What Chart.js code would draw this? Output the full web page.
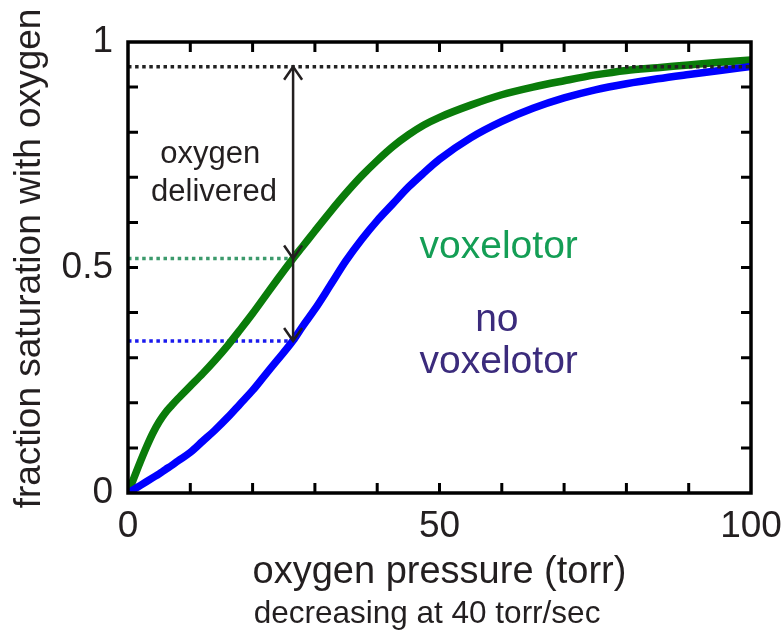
<!DOCTYPE html>
<html>
<head>
    <meta charset="UTF-8">
    <title>Oxygen saturation curves</title>
    <script src="https://cdn.jsdelivr.net/npm/chart.js"></script>
    <style>
        html, body { margin: 0; padding: 0; background: #fff; }
    </style>
</head>
<body>
    <canvas id="myChart" width="783" height="631"></canvas>

    <script>
        // oxygen pressure (torr) and fraction saturation for both curves
        const pressure = [0, 1, 2, 3, 4, 5, 6, 7, 8, 10, 12, 14, 16, 18, 20, 22, 24, 26.5, 28, 30,
            32.5, 35, 37.5, 40, 42.5, 45, 47.5, 50, 55, 60, 65, 70, 75, 80, 85, 90, 95, 100];
        const withVoxelotor = [0, 0.035, 0.07, 0.103, 0.133, 0.158, 0.178, 0.194, 0.209, 0.237, 0.265,
            0.295, 0.327, 0.362, 0.398, 0.436, 0.474, 0.52, 0.546, 0.581, 0.624, 0.665, 0.703, 0.737,
            0.768, 0.794, 0.816, 0.833, 0.86, 0.883, 0.9, 0.914, 0.927, 0.937, 0.943, 0.949, 0.955, 0.96];
        const noVoxelotor = [0, 0.0085, 0.017, 0.0255, 0.034, 0.0425, 0.052, 0.061, 0.071, 0.09, 0.115,
            0.14, 0.1675, 0.1975, 0.2275, 0.2615, 0.295, 0.338, 0.369, 0.4075, 0.461, 0.515, 0.562, 0.604,
            0.641, 0.678, 0.71, 0.74, 0.7875, 0.824, 0.853, 0.876, 0.894, 0.9075, 0.9185, 0.928, 0.937, 0.9455];

        const xTickLabels = [0, 50, 100];
        const yTickLabels = [0, 0.5, 1];

        // tissue pressure where delivery is read, and the saturation levels there
        const deliveredAt = 26.5;
        const loadedLevel = 0.945;
        const voxelotorLevel = 0.52;
        const noVoxelotorLevel = 0.337;

        const FONT = "'Liberation Sans', Arial, sans-serif";
        const INK = '#231f20';

        const toPoints = (xs, ys) => xs.map((x, i) => ({ x: x, y: ys[i] }));

        function arrowHead(ctx, x, y, dir) {
            // dir: -1 points up, 1 points down
            ctx.beginPath();
            ctx.moveTo(x - 9, y - dir * 13);
            ctx.lineTo(x, y);
            ctx.lineTo(x + 9, y - dir * 13);
            ctx.stroke();
        }

        const frameAndNotes = {
            id: 'frameAndNotes',
            afterDatasetsDraw(chart) {
                const { ctx, chartArea: a, scales: { x, y } } = chart;
                ctx.save();

                // boxed frame with inward ticks on all four sides
                ctx.strokeStyle = '#000';
                ctx.lineWidth = 3.5;
                ctx.strokeRect(a.left, a.top, a.right - a.left, a.bottom - a.top);
                ctx.lineWidth = 3;
                ctx.beginPath();
                for (let v = 10; v < 100; v += 10) {
                    const px = x.getPixelForValue(v);
                    ctx.moveTo(px, a.bottom); ctx.lineTo(px, a.bottom - 10);
                    ctx.moveTo(px, a.top); ctx.lineTo(px, a.top + 10);
                }
                for (let k = 1; k < 10; k++) {
                    const py = y.getPixelForValue(k / 10);
                    ctx.moveTo(a.left, py); ctx.lineTo(a.left + 10, py);
                    ctx.moveTo(a.right, py); ctx.lineTo(a.right - 10, py);
                }
                ctx.stroke();

                // oxygen delivered arrow
                const ax = x.getPixelForValue(deliveredAt);
                const yTop = y.getPixelForValue(loadedLevel);
                const yMid = y.getPixelForValue(voxelotorLevel);
                const yBot = y.getPixelForValue(noVoxelotorLevel);
                ctx.strokeStyle = INK;
                ctx.lineWidth = 2.5;
                ctx.beginPath();
                ctx.moveTo(ax, yTop); ctx.lineTo(ax, yBot);
                ctx.stroke();
                arrowHead(ctx, ax, yTop, -1);
                arrowHead(ctx, ax, yMid, 1);
                arrowHead(ctx, ax, yBot, 1);

                // labels
                ctx.textAlign = 'center';
                ctx.textBaseline = 'alphabetic';
                ctx.fillStyle = INK;
                ctx.font = '31px ' + FONT;
                ctx.fillText('oxygen', x.getPixelForValue(13.2), y.getPixelForValue(0.732));
                ctx.fillText('delivered', x.getPixelForValue(13.8), y.getPixelForValue(0.648));

                ctx.font = '39px ' + FONT;
                ctx.fillStyle = '#149e55';
                ctx.fillText('voxelotor', x.getPixelForValue(59.5), y.getPixelForValue(0.52));
                ctx.fillStyle = '#3b2b7c';
                ctx.fillText('no', x.getPixelForValue(59.2), y.getPixelForValue(0.36));
                ctx.fillText('voxelotor', x.getPixelForValue(59.5), y.getPixelForValue(0.265));

                ctx.fillStyle = INK;
                ctx.font = '31.5px ' + FONT;
                ctx.fillText('decreasing at 40 torr/sec', x.getPixelForValue(48), a.bottom + 130);

                // vertical axis title, sitting a little above the middle of the axis
                ctx.translate(30, y.getPixelForValue(0.52));
                ctx.rotate(-Math.PI / 2);
                ctx.textBaseline = 'middle';
                ctx.font = '37px ' + FONT;
                ctx.fillText('fraction saturation with oxygen', 0, 0);
                ctx.restore();
            }
        };

        const ctx = document.getElementById('myChart').getContext('2d');
        new Chart(ctx, {
            type: 'line',
            data: {
                datasets: [
                    {
                        label: 'loaded level',
                        data: toPoints([0, 100], [loadedLevel, loadedLevel]),
                        borderColor: '#222',
                        borderWidth: 3.5,
                        borderDash: [3.5, 3.6],
                        pointRadius: 0,
                        order: 0
                    },
                    {
                        label: 'voxelotor level',
                        data: toPoints([0, deliveredAt], [voxelotorLevel, voxelotorLevel]),
                        borderColor: '#3c9a6c',
                        borderWidth: 3.5,
                        borderDash: [3.5, 3.6],
                        pointRadius: 0,
                        order: 3
                    },
                    {
                        label: 'no voxelotor level',
                        data: toPoints([0, deliveredAt], [noVoxelotorLevel, noVoxelotorLevel]),
                        borderColor: '#1a1aee',
                        borderWidth: 3.5,
                        borderDash: [3.5, 3.6],
                        pointRadius: 0,
                        order: 3
                    },
                    {
                        label: 'voxelotor',
                        data: toPoints(pressure, withVoxelotor),
                        borderColor: '#0a7c0a',
                        borderWidth: 7.5,
                        pointRadius: 0,
                        cubicInterpolationMode: 'monotone',
                        order: 2
                    },
                    {
                        label: 'no voxelotor',
                        data: toPoints(pressure, noVoxelotor),
                        borderColor: '#0000ff',
                        borderWidth: 7.5,
                        pointRadius: 0,
                        cubicInterpolationMode: 'monotone',
                        order: 1
                    }
                ]
            },
            options: {
                responsive: false,
                animation: false,
                devicePixelRatio: 1,
                layout: { padding: { top: 42, right: 32, bottom: 0, left: 0 } },
                plugins: {
                    legend: { display: false },
                    tooltip: { enabled: false }
                },
                scales: {
                    x: {
                        type: 'linear',
                        min: 0,
                        max: 100,
                        grid: { display: false, drawTicks: false },
                        border: { display: false },
                        ticks: {
                            stepSize: 10,
                            autoSkip: false,
                            maxRotation: 0,
                            padding: 12,
                            color: INK,
                            font: { family: FONT, size: 37 },
                            callback: v => xTickLabels.includes(v) ? String(v) : ''
                        },
                        title: {
                            display: true,
                            text: 'oxygen pressure (torr)',
                            color: INK,
                            font: { family: FONT, size: 38 },
                            padding: { top: 0, bottom: 36 }
                        },
                        afterFit: s => {
                            s.height = 138;
                            s.paddingLeft = 0;
                            s.paddingRight = 0;
                        }
                    },
                    y: {
                        type: 'linear',
                        min: 0,
                        max: 1,
                        grid: { display: false, drawTicks: false },
                        border: { display: false },
                        ticks: {
                            stepSize: 0.1,
                            autoSkip: false,
                            padding: 15,
                            color: INK,
                            font: { family: FONT, size: 37 },
                            callback: v => {
                                const t = yTickLabels.find(l => Math.abs(l - v) < 1e-6);
                                return t === undefined ? '' : String(t);
                            }
                        },
                        afterFit: s => {
                            s.width = 128;
                            s.paddingTop = 0;
                            s.paddingBottom = 0;
                        }
                    }
                }
            },
            plugins: [frameAndNotes]
        });
    </script>
</body>
</html>
